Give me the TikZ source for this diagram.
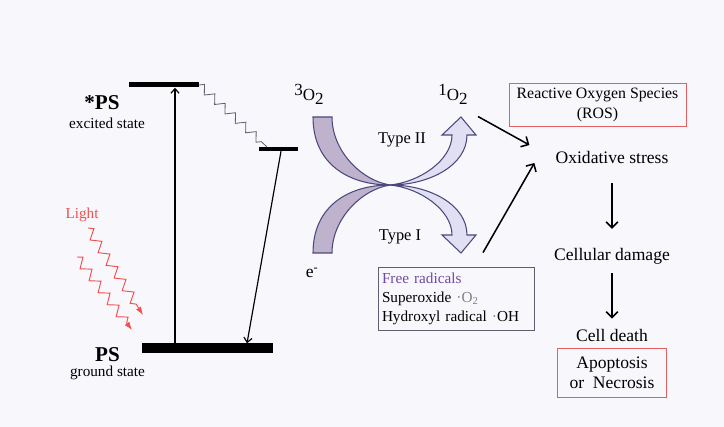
\documentclass[tikz,border=0pt]{standalone}
\usepackage{fontspec}
\setmainfont{Liberation Serif}
\usepackage{tikz}
\usetikzlibrary{arrows, arrows.meta, positioning, decorations.pathmorphing}
\definecolor{bgcol}{RGB}{248,248,252}
\definecolor{bandedge}{RGB}{75,72,125}
\definecolor{bandleft}{RGB}{190,178,205}
\definecolor{bandright}{RGB}{224,224,242}
\definecolor{lightred}{RGB}{240,80,80}
\definecolor{rosred}{RGB}{228,95,95}
\definecolor{radpurple}{RGB}{110,75,160}
\definecolor{boxgray}{RGB}{95,95,115}
\definecolor{wavygray}{RGB}{95,95,110}
\tikzstyle{bar} = [rectangle, fill=black, inner sep=0pt]
\tikzstyle{txt} = [inner sep=0pt, font=\fontsize{15}{17}\selectfont]
\tikzstyle{oxy} = [inner sep=0pt, font=\fontsize{14.5}{16}\selectfont]
\tikzstyle{rosbox} = [rectangle, draw=rosred, line width=0.8pt, align=center, inner sep=0pt]
\tikzstyle{arrow} = [line width=1.3pt,->,>={Straight Barb[length=5pt,width=10pt]}]
\tikzstyle{levelarrow} = [line width=1pt,->,>={Straight Barb[length=4pt,width=7pt]}]
\tikzstyle{wavy} = [wavygray, line width=0.7pt, decorate, decoration={zigzag, segment length=0.42cm, amplitude=0.12cm, post length=2pt}]
\tikzstyle{ray} = [lightred, line width=0.8pt, decorate, decoration={zigzag, segment length=0.45cm, amplitude=0.14cm, post length=7pt}, -{Latex[length=7pt,width=5pt]}]
\tikzstyle{band} = [draw=bandedge, line width=0.9pt]

\begin{document}
\begin{tikzpicture}[x=0.03cm, y=-0.03cm, node distance=1cm]
        \fill [bgcol] (0,0) rectangle (724,427);

        % energy levels
        \node (excited) [bar, minimum width=2.1cm, minimum height=0.15cm] at (164,85) {};
        \node (triplet) [bar, minimum width=1.17cm, minimum height=0.12cm] at (278.5,149) {};
        \node (ground) [bar, minimum width=3.93cm, minimum height=0.27cm] at (207.5,348) {};

        \node (ps_ex) [txt, font=\fontsize{18}{20}\bfseries\selectfont] at (102,103) {*PS};
        \node (ps_ex_lbl) [txt, below of=ps_ex, node distance=0.6cm, xshift=0.15cm, font=\fontsize{13}{15}\selectfont] {excited state};
        \node (ps_gr) [txt, font=\fontsize{18}{20}\bfseries\selectfont] at (107.5,355) {PS};
        \node (ps_gr_lbl) [txt, below of=ps_gr, node distance=0.54cm, font=\fontsize{13}{15}\selectfont] {ground state};
        \node (light) [txt, text=lightred, font=\fontsize{13}{15}\selectfont] at (82,215) {Light};

        \coordinate (ray1s) at (88,228);
        \coordinate (ray1e) at (143,315);
        \coordinate (ray2s) at (77,257);
        \coordinate (ray2e) at (132,330);
        \draw [ray] (ray1s) -- (ray1e);
        \draw [ray] (ray2s) -- (ray2e);

        \draw [levelarrow] ([xshift=-0.975cm]ground.north) -- ([xshift=-0.975cm]ground.north |- excited.south);
        \draw [levelarrow] ([xshift=0.075cm]triplet.south) -- ([xshift=1.185cm]ground.north);
        \draw [wavy] (excited.east) -- ([xshift=-0.35cm]triplet.north);

        % crossing bands
        \filldraw [band, fill=bandleft] (313,117) .. controls (313,165) and (350,185) .. (390,185)
            .. controls (360,180) and (332,150) .. (332,117) -- cycle;
        \filldraw [band, fill=bandleft] (313,253) .. controls (313,205) and (350,185) .. (390,185)
            .. controls (360,190) and (332,220) .. (332,253) -- cycle;
        \filldraw [band, fill=bandright] (390,185) .. controls (430,185) and (467,165) .. (467,135)
            -- (476,135) -- (461,117) -- (442,135) -- (452,135) .. controls (452,160) and (420,182) .. (390,185) -- cycle;
        \filldraw [band, fill=bandright] (390,185) .. controls (430,185) and (467,205) .. (467,235)
            -- (476,235) -- (461,253) -- (442,235) -- (452,235) .. controls (452,210) and (420,188) .. (390,185) -- cycle;

        \node (tripO) [oxy] at (309,94.5) {\raisebox{4.3pt}{3}O\raisebox{-3.4pt}{2}};
        \node (singlet) [oxy] at (453,94.5) {\raisebox{4.3pt}{1}O\raisebox{-3.4pt}{2}};
        \node (electron) [txt] at (312,273) {e\textsuperscript{-}};
        \node (type2) [txt, font=\fontsize{14}{16}\selectfont] at (402,140) {Type II};
        \node (type1) [txt, font=\fontsize{14}{16}\selectfont] at (400,237) {Type I};

        % products and consequences
        \node (radicals) [draw=boxgray, line width=0.7pt, text width=4.44cm, align=left, minimum height=1.89cm, inner sep=0.12cm, font=\fontsize{13}{16.2}\selectfont] at (456,298.5)
            {\textcolor{radpurple}{Free radicals}\\Superoxide \textcolor{gray}{\textperiodcentered O\textsubscript{2}}\\Hydroxyl radical \textcolor{gray}{\textperiodcentered}OH};
        \node (ros) [rosbox, minimum width=5.31cm, minimum height=1.29cm, font=\fontsize{13.5}{17}\selectfont] at (597.5,104.5) {Reactive Oxygen Species\\(ROS)};
        \node (ox) [txt] at (612,157) {Oxidative stress};
        \node (cellular) [txt, below of=ox, node distance=2.97cm] {Cellular damage};
        \node (death) [txt, below of=cellular, node distance=2.37cm] {Cell death};
        \node (apop) [rosbox, below of=death, node distance=1.125cm, minimum width=3.27cm, minimum height=1.47cm, font=\fontsize{15}{17}\selectfont] {Apoptosis\\or~~Necrosis};

        \draw [arrow] ([shift={(25,22)}]singlet.center) -- ([shift={(-26,-12)}]ox.west);
        \draw [arrow] ([shift={(27,-14)}]radicals.north) -- ([shift={(-21,6)}]ox.west);
        \draw [arrow, shorten <=0.6cm, shorten >=0.57cm] (ox) -- (cellular);
        \draw [arrow, shorten <=0.27cm, shorten >=0.3cm] (cellular) -- (death);
        \end{tikzpicture}
\end{document}
